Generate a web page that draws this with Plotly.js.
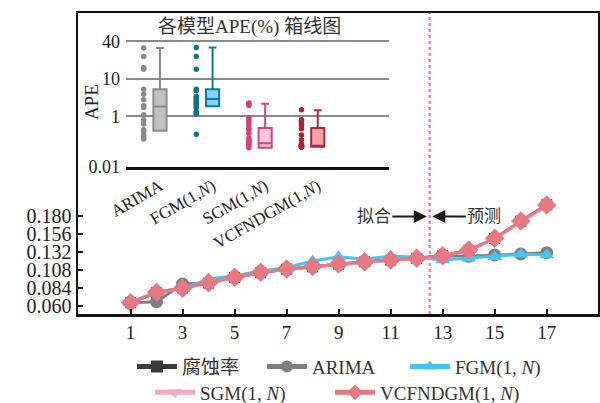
<!DOCTYPE html>
<html>
<head>
<meta charset="utf-8">
<script src="https://cdn.plot.ly/plotly-3.0.1.min.js"></script>
<style>html,body{margin:0;padding:0;background:#fff;}#chart{width:600px;height:403px;}</style>
</head>
<body>
<div id="chart"></div>
<script>
// ---------- main chart data ----------
const step = [1,2,3,4,5,6,7,8,9,10,11,12,13,14,15,16,17];
const corrosionRate = [0.0644,0.0780,0.0840,0.0905,0.0980,0.1045,0.1090,0.1122,0.1158,0.1190,0.1212,0.1235,0.1270,0.1340,0.1500,0.1730,0.1950];
const arima = [0.0644,0.0657,0.0893,0.0905,0.0980,0.1045,0.1090,0.1122,0.1158,0.1190,0.1212,0.1235,0.1271,0.1262,0.1280,0.1293,0.1310];
const fgm = [0.0644,0.0790,0.0830,0.0960,0.1000,0.1067,0.1110,0.1200,0.1257,0.1223,0.1267,0.1250,0.1213,0.1236,0.1257,0.1289,0.1280];
const sgm = [0.0644,0.0785,0.0834,0.0908,0.0980,0.1046,0.1090,0.1122,0.1157,0.1188,0.1211,0.1234,0.1268,0.1340,0.1495,0.1712,0.1930];
const vcfndgm = [0.0644,0.0783,0.0836,0.0911,0.0983,0.1049,0.1093,0.1125,0.1160,0.1191,0.1213,0.1236,0.1271,0.1347,0.1503,0.1733,0.1947];
const xTicks = [1,3,5,7,9,11,13,15,17];
const yTicks = [0.060,0.084,0.108,0.132,0.156,0.180];

// ---------- inset APE (%) data ----------
const apeCategories = ['ARIMA','FGM(1,<i>N</i>)','SGM(1,<i>N</i>)','VCFNDGM(1,<i>N</i>)'];
const apeArima = [31.1,22.8,15.2,14.3,5.3,3.9,2.75,1.9,1.72,1.1,0.73,0.49,0.29,0.25,0.18,0.14,0.127];
const apeFgm = [31.8,22.8,14.3,5.3,4.79,3.37,3.11,2.75,2.48,2.29,2.03,1.82,1.69,1.34,1.24,1.15,0.195];
const apeSgm = [2.25,2.09,1.94,0.85,0.73,0.59,0.46,0.34,0.29,0.214,0.139,0.116,0.10,0.094,0.080,0.073,0.057];
const apeVcf = [1.49,0.73,0.63,0.49,0.42,0.32,0.18,0.116,0.080,0.073,0.070,0.067,0.065,0.0625,0.0625,0.061,0.061];
const boxQ1 = [0.264,1.85,0.057,0.0625];
const boxMedian = [1.82,2.88,0.085,0.067];
const boxQ3 = [5.3,5.3,0.34,0.34];
const boxUpper = [31.1,31.8,2.15,1.46];
const boxLower = [0.264,1.85,0.057,0.0625];
const apeTickVals = [0.01,1,10,40];
const apeTickText = ['0.01','1','10','40'];

// piecewise axis scale used by the inset (as drawn in the reference)
function apePos(v){
  if (v >= 10) return 1 + Math.log10(v/10)/Math.log10(4);
  if (v >= 1) return Math.log10(v);
  return Math.log10(v)*0.672;
}

const FONT = 'Liberation Serif, Times New Roman, Noto Sans CJK SC, serif';
const traces = [];

const mainSeries = [
  {name:'腐蚀率', y:corrosionRate, color:'#3a3a3a', symbol:'square', size:11, legend:'legend'},
  {name:'ARIMA', y:arima, color:'#7f7f7f', symbol:'circle', size:13, legend:'legend2'},
  {name:'FGM(1, <i>N</i>)', y:fgm, color:'#45c6f0', symbol:'triangle-up', size:13, legend:'legend3'},
  {name:'SGM(1, <i>N</i>)', y:sgm, color:'#f1a9c9', symbol:'triangle-down', size:13, legend:'legend4'},
  {name:'VCFNDGM(1, <i>N</i>)', y:vcfndgm, color:'#e57883', symbol:'diamond', size:15, legend:'legend5'}
];
mainSeries.forEach(s => traces.push({
  type:'scatter', mode:'lines+markers', x:step, y:s.y, name:s.name, legend:s.legend,
  line:{color:s.color, width:3}, marker:{color:s.color, symbol:s.symbol, size:s.size},
  xaxis:'x', yaxis:'y', cliponaxis:false
}));

const apeData = [apeArima, apeFgm, apeSgm, apeVcf];
const dotColors = ['#8a8a8a','#0b7292','#d63f7b','#b21f38'];
const boxFill = ['#c2c2c2','#80d6f6','#f3c6d9','#eea3a9'];
const boxLine = ['#8a8a8a','#11789c','#d4467f','#b32437'];
apeData.forEach((vals,i) => {
  traces.push({
    type:'scatter', mode:'markers', xaxis:'x2', yaxis:'y2', showlegend:false,
    x: vals.map(() => i - 0.31), y: vals.map(apePos),
    marker:{color:dotColors[i], size:5.5}, cliponaxis:false
  });
  traces.push({
    type:'box', xaxis:'x2', yaxis:'y2', showlegend:false, x:[i],
    q1:[apePos(boxQ1[i])], median:[apePos(boxMedian[i])], q3:[apePos(boxQ3[i])],
    lowerfence:[apePos(boxLower[i])], upperfence:[apePos(boxUpper[i])],
    width:0.25, whiskerwidth:0.6, boxpoints:false,
    fillcolor:boxFill[i], line:{color:boxLine[i], width:2}
  });
});

function legendAt(xp, yc){
  return {orientation:'h', x:xp, xanchor:'left', yref:'container', y:yc, yanchor:'middle', itemwidth:40,
    itemsizing:'constant', font:{size:19, family:FONT, color:'#333'}, bgcolor:'rgba(0,0,0,0)'};
}

const layout = {
  width:600, height:403,
  margin:{l:78, r:2, t:13, b:89, autoexpand:false},
  paper_bgcolor:'#fff', plot_bgcolor:'rgba(0,0,0,0)',
  font:{family:FONT, color:'#222', size:18},
  xaxis:{range:[-1.02,18.97], tickvals:xTicks, ticks:'inside', ticklen:5, tickwidth:2, tickcolor:'#111',
    showline:true, mirror:true, linecolor:'#111', linewidth:2.5, showgrid:false, zeroline:false, automargin:false,
    tickfont:{size:19, family:FONT, color:'#222'}},
  yaxis:{range:[0.0493,0.4507], tickvals:yTicks, tickformat:'.3f', ticks:'inside', ticklen:5, tickwidth:2, tickcolor:'#111',
    showline:true, mirror:true, linecolor:'#111', linewidth:2.5, showgrid:false, zeroline:false, automargin:false,
    tickfont:{size:20, family:FONT, color:'#222'}},
  xaxis2:{domain:[0.0923,0.598], anchor:'y2', range:[-0.646,4.354], tickvals:[0,1,2,3], ticktext:apeCategories,
    tickangle:-30, showline:true, linecolor:'#111', linewidth:3, showgrid:false, zeroline:false, ticks:'', automargin:false,
    tickfont:{size:17, family:FONT, color:'#222'}},
  yaxis2:{domain:[0.4894,0.9184], anchor:'x2', range:[apePos(0.01),2.1], tickvals:apeTickVals.map(apePos), ticktext:apeTickText,
    showgrid:true, gridcolor:'#8a8a8a', gridwidth:2, zeroline:false, showline:false, ticks:'', ticklabelstandoff:5, automargin:false,
    tickfont:{size:18, family:FONT, color:'#222'}},
  legend: legendAt(0.1038, 0.0901),
  legend2: legendAt(0.3538, 0.0901),
  legend3: legendAt(0.6288, 0.0901),
  legend4: legendAt(0.1385, 0.026),
  legend5: legendAt(0.4846, 0.026),
  shapes:[{type:'line', xref:'x', yref:'paper', x0:12.5, x1:12.5, y0:0, y1:1,
    line:{color:'#f37dc4', width:2.5, dash:'dot'}}],
  annotations:[
    {text:'各模型APE(%) 箱线图', xref:'paper', yref:'paper', x:0.329, y:0.955, xanchor:'center', yanchor:'middle',
      showarrow:false, font:{size:19, family:FONT, color:'#333'}},
    {text:'APE', xref:'paper', yref:'paper', x:0.0256, y:0.705, textangle:-90, xanchor:'center', yanchor:'middle',
      showarrow:false, font:{size:19, family:FONT, color:'#222'}},
    {text:'拟合', xref:'x', yref:'paper', x:12.39, y:0.324, ax:-53, ay:0, showarrow:true, arrowhead:2, arrowsize:1.3,
      arrowwidth:2, arrowcolor:'#231815', font:{size:17, family:FONT, color:'#333'}},
    {text:'预测', xref:'x', yref:'paper', x:12.6, y:0.324, ax:52, ay:0, showarrow:true, arrowhead:2, arrowsize:1.3,
      arrowwidth:2, arrowcolor:'#231815', font:{size:17, family:FONT, color:'#333'}}
  ]
};

Plotly.newPlot('chart', traces, layout, {displayModeBar:false, staticPlot:true});
</script>
</body>
</html>
